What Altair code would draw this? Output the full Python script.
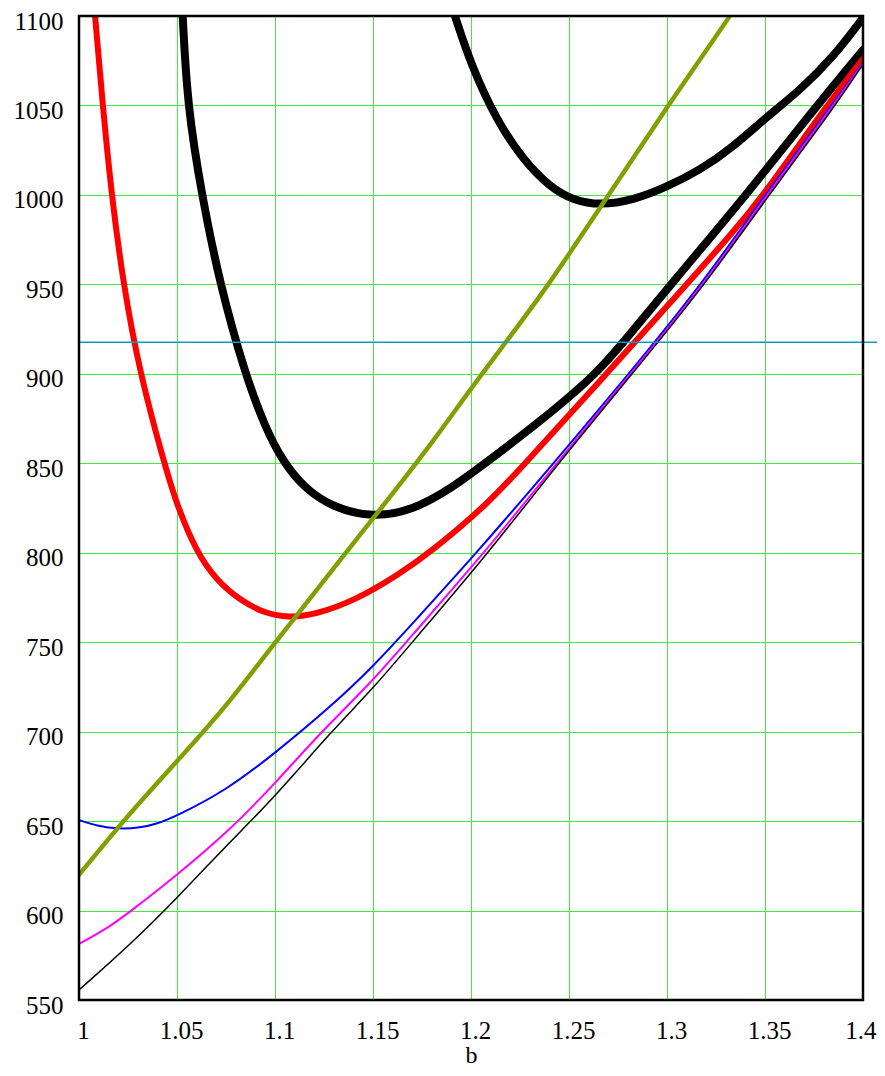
import altair as alt
import pandas as pd

# ---- data ----
red_b = [1.0082, 1.0121, 1.0166, 1.0226, 1.0311, 1.0435, 1.0495, 1.06, 1.0702, 1.082, 1.095, 1.107, 1.12, 1.1414, 1.1638, 1.1791, 1.2097, 1.2276, 1.2692, 1.31, 1.332, 1.3495, 1.3815, 1.4]
red_v = [1100, 1050, 1000, 950, 900, 850, 828, 800, 784.6, 773.5, 766, 763.8, 765.2, 773.5, 788.4, 800, 828.4, 850, 900, 950, 977, 1000, 1050, 1076]

k1_b = [1.0529, 1.0553, 1.0626, 1.0719, 1.0847, 1.095, 1.104, 1.115, 1.13, 1.15, 1.17, 1.19, 1.206, 1.235, 1.2641, 1.2777, 1.302, 1.3405, 1.3765, 1.4]
k1_v = [1100, 1050, 1000, 950, 900, 870, 851, 836, 825, 819.7, 823.5, 836, 849, 873, 900, 917.6, 950, 1000, 1050, 1081]

k2_b = [1.1918, 1.2004, 1.2131, 1.2267, 1.2403, 1.2522, 1.2658, 1.2827, 1.2998, 1.3168, 1.3338, 1.3508, 1.3679, 1.3849, 1.4]
k2_v = [1100, 1071.5, 1041.7, 1019.4, 1004.4, 997, 994.2, 997, 1004.4, 1013.8, 1026.8, 1043.6, 1058.5, 1077.1, 1099]

blue_b = [1.0, 1.01, 1.02, 1.03, 1.04, 1.05, 1.0753, 1.1, 1.1264, 1.15, 1.1706, 1.203, 1.2421, 1.2806, 1.3177, 1.35, 1.384, 1.4]
blue_v = [650.6, 647, 645.7, 646, 648.5, 653, 667.3, 688, 712, 736.2, 761, 800, 850, 900, 950, 1000, 1050, 1074]

mag_b = [1.0, 1.0158, 1.026, 1.05, 1.077, 1.1, 1.1236, 1.15, 1.1668, 1.207, 1.2435, 1.2815, 1.319, 1.351, 1.385, 1.4]
mag_v = [581.3, 591, 599.3, 619.8, 645, 671, 700, 728.5, 750, 800, 850, 900, 950, 1000, 1050, 1073.5]

thin_b = [1.0, 1.0277, 1.05, 1.077, 1.1, 1.1286, 1.15, 1.17, 1.209, 1.2445, 1.2823, 1.3195, 1.352, 1.386, 1.4]
thin_v = [555.6, 582.6, 607, 638.4, 663.6, 700, 724, 750, 800, 850, 900, 950, 1000, 1050, 1073]

olive_b = [1.0, 1.022, 1.077, 1.1003, 1.1362, 1.1808, 1.1995, 1.2394, 1.2702, 1.3007, 1.3321]
olive_v = [620, 649, 717.5, 750, 800, 862.8, 890.9, 950, 1000, 1050, 1100]

cyan_level = [917.6]

x_ticks = [1.0, 1.05, 1.1, 1.15, 1.2, 1.25, 1.3, 1.35, 1.4]
y_ticks = [550, 600, 650, 700, 750, 800, 850, 900, 950, 1000, 1050, 1100]
x_range = [1.0, 1.4]
y_range = [550, 1100]

W, H = 784, 984
FONT = "Liberation Serif"
FS = 25
GRID = "#3bef3b"

xs = alt.Scale(domain=x_range, nice=False, zero=False)
ys = alt.Scale(domain=y_range, nice=False, zero=False)

last_label = "datum.value >= 1.39"

x_axis = alt.Axis(values=x_ticks, format="~g", title="b", grid=True, gridColor=GRID,
                  gridWidth=1, ticks=False, tickSize=0, domain=False,
                  labelFont=FONT, labelFontSize=FS, labelColor="black",
                  labelBaseline="alphabetic", labelPadding=38,
                  labelAlign={"condition": {"test": last_label, "value": "right"}, "value": "center"},
                  labelOffset={"condition": {"test": last_label, "value": 13}, "value": 4},
                  labelFlush=False, labelBound=False,
                  titleFont=FONT, titleFontSize=24, titleFontWeight="normal",
                  titleColor="black", titleBaseline="alphabetic", titleY=62, titleX=W / 2)
y_axis = alt.Axis(values=y_ticks, format="d", title=None, grid=True, gridColor=GRID,
                  gridWidth=1, ticks=False, tickSize=0, domain=False,
                  labelFont=FONT, labelFontSize=FS, labelColor="black", labelPadding=16,
                  labelOffset=5, labelFlush=False)


def curve(bs, vs, color, width, interp="basis"):
    df = pd.DataFrame({"b": bs, "v": vs})
    return alt.Chart(df).mark_line(color=color, strokeWidth=width, interpolate=interp,
                                   clip=True, strokeCap="round", strokeJoin="round").encode(
        x=alt.X("b:Q", scale=xs, axis=x_axis),
        y=alt.Y("v:Q", scale=ys, axis=y_axis),
    )


cyan = alt.Chart(pd.DataFrame({"v": cyan_level})).mark_rule(
    color="#0a9cc4", strokeWidth=1.5, clip=False).encode(
    y=alt.Y("v:Q", scale=ys, axis=y_axis),
    x=alt.value(0), x2=alt.value(W + 14),
)

frame_df = pd.DataFrame({"x0": [x_range[0]], "x1": [x_range[1]],
                         "y0": [y_range[0]], "y1": [y_range[1]]})
frame = alt.Chart(frame_df).mark_rect(fill=None, fillOpacity=0, stroke="black",
                                      strokeWidth=2.5).encode(
    x=alt.X("x0:Q", scale=xs, axis=x_axis), x2="x1:Q",
    y=alt.Y("y0:Q", scale=ys, axis=y_axis), y2="y1:Q",
)

layers = [
    curve(k1_b, k1_v, "black", 8),
    curve(k2_b, k2_v, "black", 8),
    curve(red_b, red_v, "#ff0000", 6),
    curve(blue_b, blue_v, "#0000ff", 2),
    curve(mag_b, mag_v, "#ff00ff", 2),
    curve(thin_b, thin_v, "black", 1.5),
    curve(olive_b, olive_v, "#80a000", 4.5, interp="monotone"),
    cyan,
    frame,
]

chart = alt.layer(*layers).properties(
    width=W, height=H,
    background="white",
    autosize=alt.AutoSizeParams(type="none"),
    padding={"left": 71, "top": 8, "right": 14, "bottom": 67},
).configure_view(stroke=None)

chart.save("out.html", embed_options={"renderer": "svg", "actions": False})
